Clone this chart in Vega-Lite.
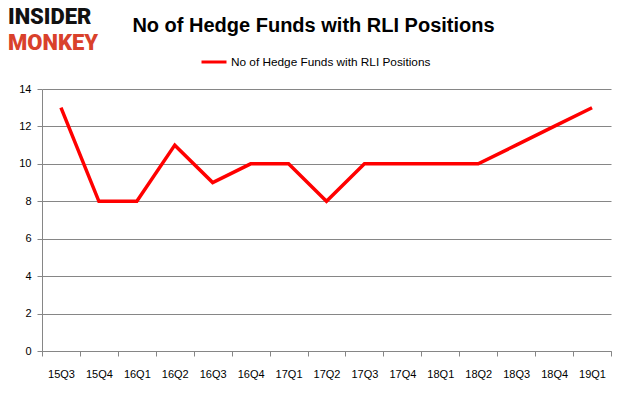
{
  "$schema": "https://vega.github.io/schema/vega-lite/v6.json",
  "width": 569,
  "height": 262,
  "autosize": "none",
  "padding": {"left": 42, "top": 89, "right": 15, "bottom": 46},
  "background": "white",
  "title": {
    "text": "No of Hedge Funds with RLI Positions",
    "font": "Liberation Sans",
    "fontSize": 20,
    "fontWeight": "bold",
    "color": "#000000",
    "anchor": "middle",
    "dx": -13,
    "offset": -30
  },
  "config": {
    "view": {"stroke": null},
    "font": "Liberation Sans"
  },
  "layer": [
    {
      "data": {
        "values": [
          {"quarter": "15Q3", "funds": 13, "series": "No of Hedge Funds with RLI Positions"},
          {"quarter": "15Q4", "funds": 8, "series": "No of Hedge Funds with RLI Positions"},
          {"quarter": "16Q1", "funds": 8, "series": "No of Hedge Funds with RLI Positions"},
          {"quarter": "16Q2", "funds": 11, "series": "No of Hedge Funds with RLI Positions"},
          {"quarter": "16Q3", "funds": 9, "series": "No of Hedge Funds with RLI Positions"},
          {"quarter": "16Q4", "funds": 10, "series": "No of Hedge Funds with RLI Positions"},
          {"quarter": "17Q1", "funds": 10, "series": "No of Hedge Funds with RLI Positions"},
          {"quarter": "17Q2", "funds": 8, "series": "No of Hedge Funds with RLI Positions"},
          {"quarter": "17Q3", "funds": 10, "series": "No of Hedge Funds with RLI Positions"},
          {"quarter": "17Q4", "funds": 10, "series": "No of Hedge Funds with RLI Positions"},
          {"quarter": "18Q1", "funds": 10, "series": "No of Hedge Funds with RLI Positions"},
          {"quarter": "18Q2", "funds": 10, "series": "No of Hedge Funds with RLI Positions"},
          {"quarter": "18Q3", "funds": 11, "series": "No of Hedge Funds with RLI Positions"},
          {"quarter": "18Q4", "funds": 12, "series": "No of Hedge Funds with RLI Positions"},
          {"quarter": "19Q1", "funds": 13, "series": "No of Hedge Funds with RLI Positions"}
        ]
      },
      "mark": {"type": "line", "strokeWidth": 3.5},
      "encoding": {
        "x": {
          "field": "quarter",
          "type": "ordinal",
          "sort": null,
          "scale": {"type": "band", "paddingInner": 0, "paddingOuter": 0},
          "axis": {
            "title": null,
            "labelAngle": 0,
            "tickBand": "extent",
            "domainColor": "#868686",
            "tickColor": "#868686",
            "tickSize": 5,
            "labelPadding": 12,
            "labelFontSize": 11,
            "labelColor": "#000000",
            "labelFont": "Liberation Sans",
            "grid": false
          }
        },
        "y": {
          "field": "funds",
          "type": "quantitative",
          "scale": {"domain": [0, 14]},
          "axis": {
            "title": null,
            "values": [0, 2, 4, 6, 8, 10, 12, 14],
            "domainColor": "#868686",
            "tickColor": "#868686",
            "gridColor": "#868686",
            "tickSize": 5,
            "labelPadding": 6,
            "labelFontSize": 11,
            "labelColor": "#000000",
            "labelFont": "Liberation Sans"
          }
        },
        "color": {
          "field": "series",
          "type": "nominal",
          "scale": {"range": ["#ff0000"]},
          "legend": {
            "title": null,
            "orient": "none",
            "legendX": 158,
            "legendY": -41,
            "symbolType": "stroke",
            "symbolSize": 625,
            "symbolStrokeWidth": 3,
            "labelFontSize": 11.8,
            "labelFont": "Liberation Sans",
            "labelColor": "#000000",
            "labelOffset": 3,
            "labelLimit": 400
          }
        }
      }
    },
    {
      "data": {"values": [{"word": "INSIDER"}]},
      "mark": {"type": "text", "align": "left", "baseline": "middle", "font": "Roboto", "fontWeight": 900, "fontSize": 22, "color": "#111111", "x": -34, "y": -72},
      "encoding": {"text": {"field": "word"}}
    },
    {
      "data": {"values": [{"word": "MONKEY"}]},
      "mark": {"type": "text", "align": "left", "baseline": "middle", "font": "Roboto", "fontWeight": 900, "fontSize": 22, "color": "#d9412b", "x": -34, "y": -46},
      "encoding": {"text": {"field": "word"}}
    }
  ]
}
